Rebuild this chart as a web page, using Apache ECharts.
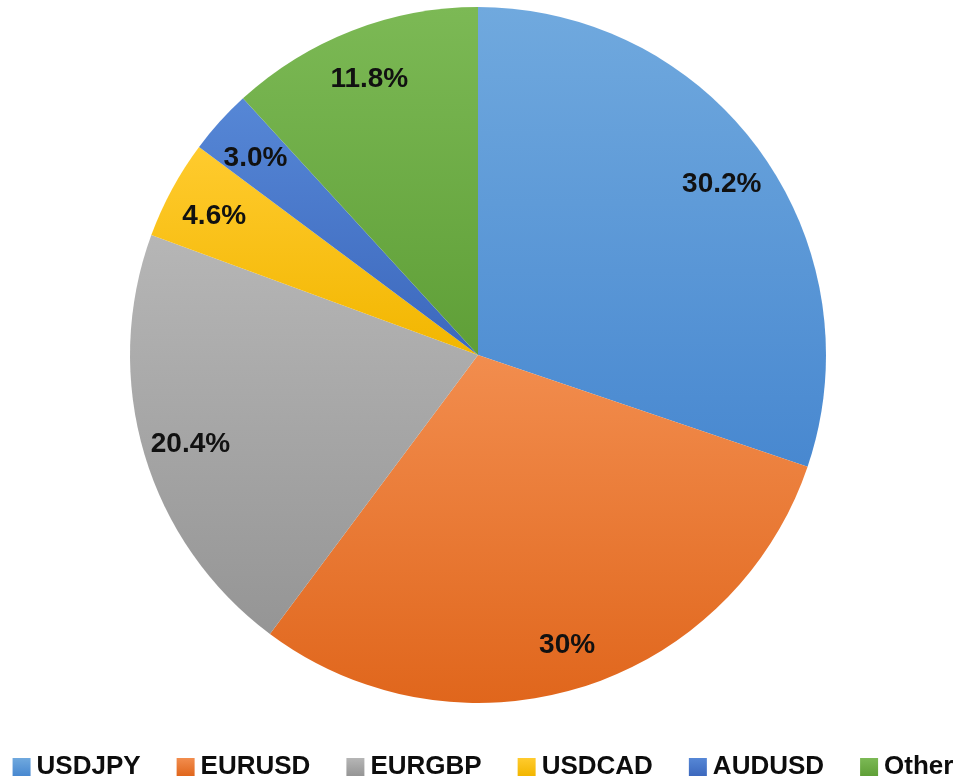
<!DOCTYPE html>
<html>
<head>
<meta charset="utf-8">
<script src="https://cdn.jsdelivr.net/npm/echarts@6/dist/echarts.min.js"></script>
<style>
  html, body { margin: 0; padding: 0; background: #fff; }
  #chart { width: 966px; height: 780px; }
</style>
</head>
<body>
<div id="chart"></div>
<script>
// data
var pairs = ['USDJPY', 'EURUSD', 'EURGBP', 'USDCAD', 'AUDUSD', 'Other'];
var shares = [30.2, 30, 20.4, 4.6, 3.0, 11.8];
var shareLabels = ['30.2%', '30%', '20.4%', '4.6%', '3.0%', '11.8%'];

// light (top) -> dark (bottom) per slice
var topColors = ['#70a9de', '#f28d4e', '#b6b6b6', '#ffcb2e', '#5687d6', '#7cb955'];
var bottomColors = ['#4888d0', '#e0661c', '#959595', '#f2b600', '#3c68bd', '#5f9f37'];

function grad(i) {
  return new echarts.graphic.LinearGradient(0, 0, 0, 1, [
    { offset: 0, color: topColors[i] },
    { offset: 1, color: bottomColors[i] }
  ]);
}

var chart = echarts.init(document.getElementById('chart'));

var pieData = pairs.map(function (name, i) {
  return { name: name, value: shares[i], itemStyle: { color: grad(i) } };
});
var labelData = pairs.map(function (name, i) {
  return { name: name, value: shares[i], label: { formatter: shareLabels[i] } };
});

chart.setOption({
  animation: false,
  legend: {
    data: pairs,
    left: 'center',
    top: 749,
    itemWidth: 18,
    itemHeight: 18,
    itemGap: 36,
    icon: 'rect',
    selectedMode: false,
    textStyle: {
      fontFamily: 'Liberation Sans',
      fontWeight: 'bold',
      fontSize: 26,
      color: '#0d0d0d',
      padding: [0, 0, 0, 1]
    }
  },
  series: [
    {
      name: 'pairs',
      type: 'pie',
      center: [478, 355],
      radius: [0, 348],
      startAngle: 90,
      clockwise: true,
      silent: true,
      itemStyle: { borderWidth: 0 },
      label: { show: false },
      labelLine: { show: false },
      data: pieData
    },
    {
      name: 'labels',
      type: 'pie',
      center: [478, 355],
      radius: [246, 348],
      startAngle: 90,
      clockwise: true,
      silent: true,
      legendHoverLink: false,
      itemStyle: { color: 'rgba(0,0,0,0)', borderWidth: 0 },
      label: {
        show: true,
        position: 'inside',
        offset: [0, 4],
        fontFamily: 'Liberation Sans',
        fontWeight: 'bold',
        fontSize: 28,
        color: '#111111'
      },
      labelLine: { show: false },
      data: labelData
    }
  ]
});
</script>
</body>
</html>
